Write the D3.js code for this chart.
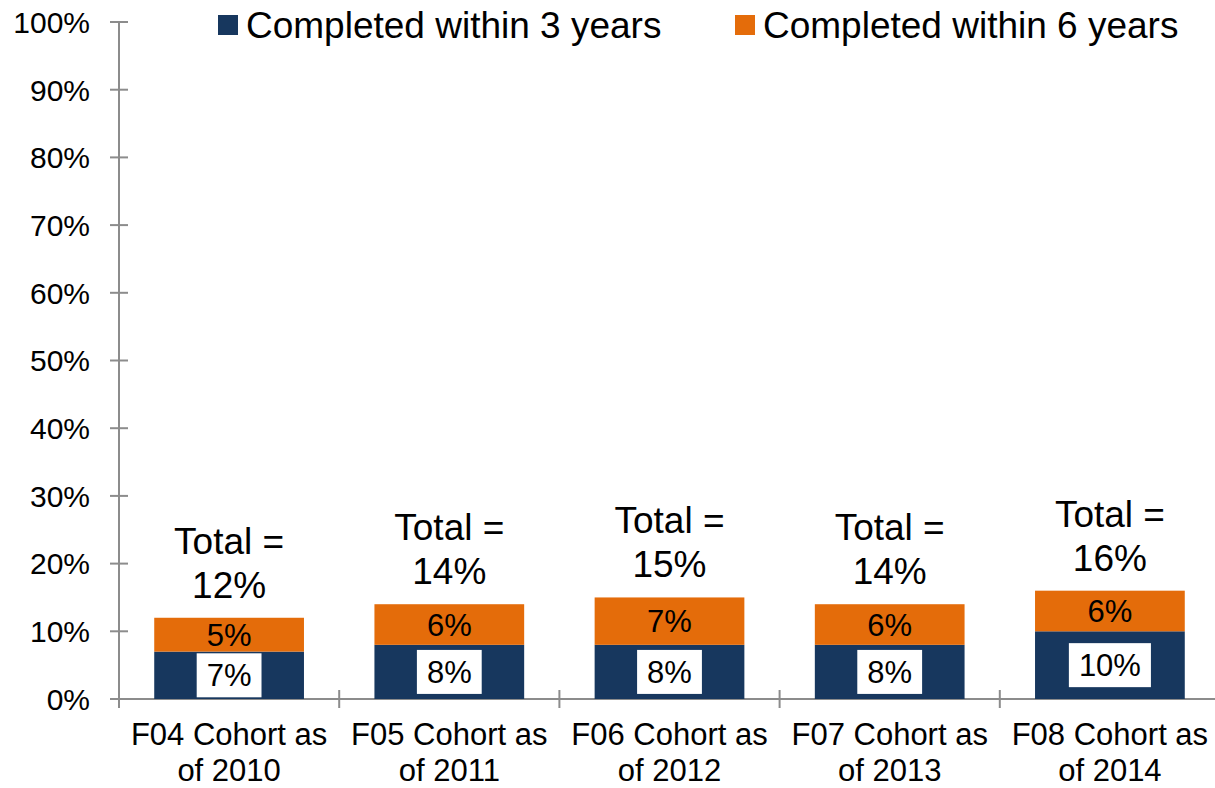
<html>
<head>
  <title>Cohort completion</title>
  <script src="https://cdn.jsdelivr.net/npm/d3@7"></script>
  <style>
    body { margin: 0; background: #fff; }
    svg text { font-family: "Liberation Sans", Arial, sans-serif; fill: #000; }
  </style>
</head>
<body>
<div id="chart"></div>
<script type="text/javascript">

// chart values
var cohorts = ["F04 Cohort as|of 2010", "F05 Cohort as|of 2011", "F06 Cohort as|of 2012",
               "F07 Cohort as|of 2013", "F08 Cohort as|of 2014"];
var within3 = [7, 8, 8, 8, 10];
var within6 = [5, 6, 7, 6, 6];
var totals = [12, 14, 15, 14, 16];
var seriesNames = ["Completed within 3 years", "Completed within 6 years"];
var yTicks = [0, 10, 20, 30, 40, 50, 60, 70, 80, 90, 100];

var w = 1215, h = 788;
var navy = "#17375E", orange = "#E46C0A", axisGrey = "#8C8C8C";

var svg = d3.select("#chart").append("svg")
  .attr("width", w)
  .attr("height", h);

var x = d3.scaleBand()
  .domain(cohorts)
  .range([119, 1220])
  .paddingInner(0.32)
  .paddingOuter(0.16);

var y = d3.scaleLinear()
  .domain([0, 100])
  .range([699, 22]);

// y axis
var yAxis = svg.append("g").attr("transform", "translate(119,0)");
yAxis.append("line")
  .attr("x1", 0).attr("x2", 0)
  .attr("y1", y(100)).attr("y2", 708)
  .attr("stroke", axisGrey).attr("stroke-width", 2);
yAxis.selectAll(".tk")
  .data(yTicks).enter().append("line")
  .attr("x1", -9).attr("x2", 9)
  .attr("y1", function(d) { return y(d); })
  .attr("y2", function(d) { return y(d); })
  .attr("stroke", axisGrey).attr("stroke-width", 2);
yAxis.selectAll("text")
  .data(yTicks).enter().append("text")
  .attr("x", -29)
  .attr("y", function(d) { return y(d); })
  .attr("dy", "0.36em")
  .attr("text-anchor", "end")
  .attr("font-size", "30px")
  .text(function(d) { return d + "%"; });

// x axis
svg.append("line")
  .attr("x1", 110).attr("x2", w)
  .attr("y1", y(0)).attr("y2", y(0))
  .attr("stroke", axisGrey).attr("stroke-width", 2);
var bounds = cohorts.slice(1).map(function(c) { return x(c) - x.step() * x.paddingInner() / 2; });
svg.selectAll(".xtk")
  .data(bounds).enter().append("line")
  .attr("x1", function(d) { return d; })
  .attr("x2", function(d) { return d; })
  .attr("y1", y(0) - 9).attr("y2", y(0) + 9)
  .attr("stroke", axisGrey).attr("stroke-width", 2);

var xl = svg.selectAll(".xl")
  .data(cohorts).enter().append("text")
  .attr("text-anchor", "middle")
  .attr("font-size", "31px")
  .attr("transform", function(d) { return "translate(" + (x(d) + x.bandwidth() / 2) + ",0)"; });
xl.append("tspan").attr("x", 0).attr("y", 745).text(function(d) { return d.split("|")[0]; });
xl.append("tspan").attr("x", 0).attr("y", 781).text(function(d) { return d.split("|")[1]; });

// bars
var g = svg.selectAll(".bar")
  .data(cohorts).enter().append("g")
  .attr("transform", function(d) { return "translate(" + x(d) + ",0)"; });

g.append("rect")
  .attr("y", function(d, i) { return y(within3[i]); })
  .attr("width", x.bandwidth())
  .attr("height", function(d, i) { return y(0) - y(within3[i]); })
  .attr("fill", navy);

g.append("rect")
  .attr("y", function(d, i) { return y(within3[i] + within6[i]); })
  .attr("width", x.bandwidth())
  .attr("height", function(d, i) { return y(within3[i]) - y(within3[i] + within6[i]); })
  .attr("fill", orange);

// white boxed label on the navy segment
g.each(function(d, i) {
  var cx = x.bandwidth() / 2;
  var cy = (y(0) + y(within3[i])) / 2;
  var sel = d3.select(this);
  var box = sel.append("rect").attr("fill", "#fff");
  var t = sel.append("text")
    .attr("x", cx).attr("y", cy).attr("dy", "0.36em")
    .attr("text-anchor", "middle")
    .attr("font-size", "31px")
    .text(within3[i] + "%");
  var bw = t.node().getComputedTextLength() + 20;
  box.attr("x", cx - bw / 2).attr("y", cy - 22).attr("width", bw).attr("height", 44);

  sel.append("text")
    .attr("x", cx)
    .attr("y", (y(within3[i]) + y(within3[i] + within6[i])) / 2)
    .attr("dy", "0.36em")
    .attr("text-anchor", "middle")
    .attr("font-size", "31px")
    .text(within6[i] + "%");

  var top = y(totals[i]);
  var tt = sel.append("text")
    .attr("text-anchor", "middle")
    .attr("font-size", "37px");
  tt.append("tspan").attr("x", cx).attr("y", top - 64).text("Total =");
  tt.append("tspan").attr("x", cx).attr("y", top - 20).text(totals[i] + "%");
});

// legend
var leg = svg.selectAll(".leg")
  .data(seriesNames).enter().append("g")
  .attr("transform", function(d, i) { return "translate(" + (i === 0 ? 218 : 735) + ",0)"; });
leg.append("rect")
  .attr("y", 15).attr("width", 20).attr("height", 20)
  .attr("fill", function(d, i) { return i === 0 ? navy : orange; });
leg.append("text")
  .attr("x", 28).attr("y", 38)
  .attr("font-size", "37px")
  .text(function(d) { return d; });

</script>
</body>
</html>
